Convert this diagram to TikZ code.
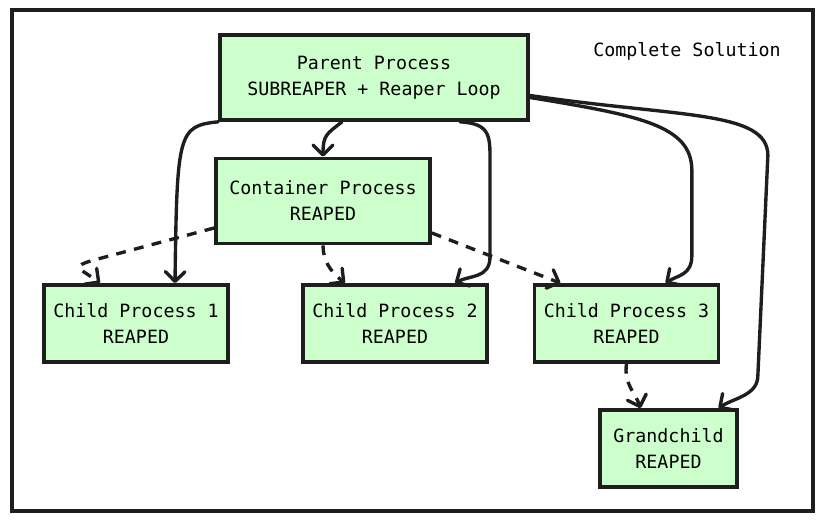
\documentclass[tikz,border=0pt]{standalone}
\usepackage{fontspec}
\setmonofont{DejaVu Sans Mono}
\usetikzlibrary{arrows.meta}
\definecolor{procfill}{HTML}{CCFFCC}
\definecolor{inkline}{HTML}{1E1E1E}

\begin{document}
\begin{tikzpicture}[x=0.025cm, y=-0.025cm,
  proc/.style={draw=inkline, line width=2.6pt, fill=procfill, align=center, inner sep=0pt,
    font=\ttfamily\fontsize{13}{18.5}\selectfont},
  arr/.style={draw=inkline, line width=2.4pt, line cap=round, line join=round,
    -{Straight Barb[length=7pt,width=14pt,round]}},
  dasharr/.style={arr, line cap=butt, dash pattern=on 7pt off 6pt}]
  \useasboundingbox (0,0) rectangle (824,523);

  % Outer frame and title
  \draw[draw=inkline, line width=2.4pt] (12,10) rectangle (813,511);
  \node[font=\ttfamily\fontsize{13}{16}\selectfont] (title) at (687,51) {Complete Solution};

  % Parent process
  \node[proc, minimum width=7.7cm, minimum height=2.125cm] (parent) at (374,77.5)
    {Parent Process\\SUBREAPER + Reaper Loop};

  % Container process
  \node[proc, minimum width=5.35cm, minimum height=2.125cm] (container) at (323,201)
    {Container Process\\REAPED};

  % Child processes
  \node[proc, minimum width=4.6cm, minimum height=1.925cm] (child1) at (136,323.5)
    {Child Process 1\\REAPED};
  \node[proc, minimum width=4.6cm, minimum height=1.925cm] (child2) at (395,323.5)
    {Child Process 2\\REAPED};
  \node[proc, minimum width=4.6cm, minimum height=1.925cm] (child3) at (626.5,323.5)
    {Child Process 3\\REAPED};

  % Grandchild
  \node[proc, minimum width=3.425cm, minimum height=1.925cm] (grandchild) at (668.5,448.5)
    {Grandchild\\REAPED};

  % Reaped by the parent
  \draw[arr] ([shift={(-32,0)}]parent.south) .. controls +(-15,12) and +(0,-22) .. (container.north);
  \draw[arr] (parent.south west) .. controls +(-40,4) and +(2,-150) .. ([shift={(39,0)}]child1.north);
  \draw[arr] ([shift={(86,0)}]parent.south) .. controls +(32,2) and +(0,-30) .. ++(30,45)
    -- ++(0,90) .. controls +(0,22) and +(14,-8) .. ([shift={(60,0)}]child2.north);
  \draw[arr] ([shift={(0,20)}]parent.east) .. controls +(110,18) and +(0,-45) .. ++(162,73)
    -- ++(0,85) .. controls +(0,20) and +(12,-8) .. ([shift={(39,0)}]child3.north);
  \draw[arr] ([shift={(0,18)}]parent.east) .. controls +(150,22) and +(0,-45) .. ++(238,60)
    -- ++(-10,220) .. controls +(0,20) and +(15,-10) .. ([shift={(50,0)}]grandchild.north);

  % Forked by the container
  \draw[dasharr] ([shift={(0,27)}]container.west) -- ++(-120,32)
    .. controls +(-25,7) and +(-20,-15) .. ([shift={(-36,0)}]child1.north);
  \draw[dasharr] (container.south) .. controls +(0,15) and +(-15,-12) .. ([shift={(-50,0)}]child2.north);
  \draw[dasharr] ([shift={(0,32)}]container.east) -- ([shift={(-66,0)}]child3.north);
  \draw[dasharr] (child3.south) .. controls +(-3,20) and +(-5,-15) .. ([shift={(-28,0)}]grandchild.north);
\end{tikzpicture}
\end{document}
